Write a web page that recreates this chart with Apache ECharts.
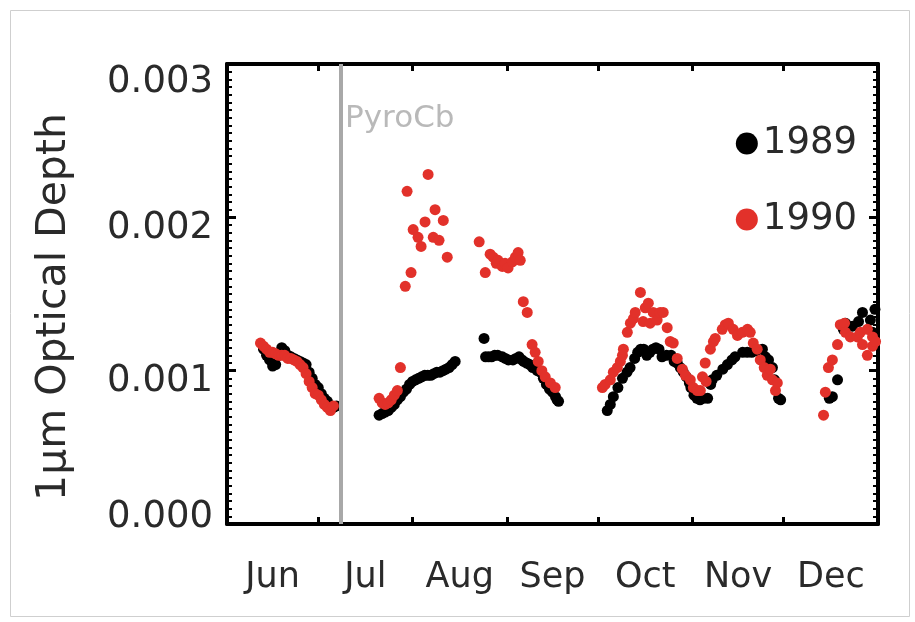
<!DOCTYPE html>
<html>
<head>
<meta charset="utf-8">
<script src="https://cdn.jsdelivr.net/npm/echarts@6/dist/echarts.min.js"></script>
<style>
html,body{margin:0;padding:0;background:#fff;}
#chart{width:915px;height:622px;}
</style>
</head>
<body>
<div id="chart"></div>
<script>
// x: days since 1 June; y: 1 micron optical depth
const monthNames = ['Jun','Jul','Aug','Sep','Oct','Nov','Dec'];
const monthStarts = [0,30,61,92,122,153,183,214];
const yTickLabels = ['0.000','0.001','0.002','0.003'];
const pyroCbDay = 37.5;
const pyroCbLabelY = 0.00264;

const day1989 = [
 12,13,14,15,16,17,18,19,20,21,22,23,24,25,26,27,28,29,30,31,32,33,34,35,36,
 50,51,52,53,54,55,56,57,58,59,60,61,62,63,64,65,66,67,68,69,70,71,72,73,74,75,
 84.5,
 85,86,87,88,89,90.5,91.5,92.5,94,95,96,97,97.5,98.5,99.5,100.5,102,103,104,105,106,107,108,108.5,109,
 125,126,127,128.5,130,131.5,132.5,134,135,136,137,138,139,140,141,142,143,144.5,146,147,148,149,150,151,152,152.5,153.5,154.5,155.5,156.5,
 158,159,159.5,161,163,164.5,166,167,169.5,171,172.5,174,176,177,178,179.3,180,181.3,182,
 198,199,200.7,202.6,203.3,205.6,207.6,208.9,211.5,212.2,213
];
const tau1989 = [
 0.00114,0.00110,0.00107,0.00103,0.00104,0.00110,0.00115,0.00113,0.00110,0.00109,0.00108,0.00107,0.00106,0.00105,0.00104,0.00099,0.00095,0.00091,0.00089,0.00085,0.00082,0.00080,0.00077,0.00076,0.00077,
 0.00071,0.00072,0.00073,0.00074,0.00076,0.00078,0.00081,0.00083,0.00086,0.00088,0.00091,0.00093,0.00094,0.00095,0.00096,0.00097,0.00097,0.00097,0.00098,0.00099,0.00099,0.00100,0.00101,0.00102,0.00104,0.00106,
 0.00121,
 0.00109,0.00109,0.00109,0.00110,0.00110,0.00109,0.00108,0.00107,0.00107,0.00108,0.00109,0.00107,0.00106,0.00105,0.00104,0.00102,0.00100,0.00099,0.00095,0.00091,0.00088,0.00086,0.00083,0.00081,0.00080,
 0.00074,0.00078,0.00083,0.00089,0.00095,0.00099,0.00102,0.00108,0.00112,0.00114,0.00114,0.00110,0.00112,0.00114,0.00115,0.00114,0.00109,0.00110,0.00110,0.00106,0.00105,0.00102,0.00099,0.00096,0.00092,0.00089,0.00084,0.00082,0.00081,0.00082,
 0.00082,0.00091,0.00094,0.00097,0.00101,0.00104,0.00107,0.00109,0.00112,0.00112,0.00112,0.00113,0.00114,0.00109,0.00107,0.00102,0.00094,0.00082,0.00081,
 0.00082,0.00083,0.00094,0.00127,0.00131,0.00129,0.00132,0.00138,0.00133,0.00125,0.00140
];

const day1990 = [
 11,12,13,14,15,16,17,18,19,20,21,22,23,24,25,26,27,28,29,30,31,32,33,34,35,
 50,51,52,53,54,55,56,57,
 58.6,59.2,60.5,61.2,62.8,63.8,65.1,66.1,67.8,68.4,69.7,71.1,72.4,
 82.9,84.9,86.5,87.5,88.5,89.1,90.5,91.4,92.4,93.8,94.8,95.7,96.4,97.4,98.7,100.3,101.3,102.3,103.5,104.6,106.3,107.9,
 123.4,124.3,126,127,128.3,129.3,130,130.3,131.6,132.6,133.6,134.2,135.9,136.8,137.5,138.5,139.1,140.1,141.4,142.4,143.4,144.7,145.7,146.7,148,149.7,150.7,152.3,153.3,154.6,155.6,
 156.3,157.2,157.5,158.9,159.9,160.5,162.8,163.8,164.8,166.4,167.8,169.4,171.1,172,173,174.3,175.3,176.6,177.6,178.6,179.3,180.3,180.9,
 196.1,196.7,197.7,199,200.7,201.6,203,203.3,204.9,207.2,208.2,208.9,210.5,210.5,212.2,212.2,213.2
];
const tau1990 = [
 0.00118,0.00116,0.00114,0.00112,0.00112,0.00111,0.00110,0.00110,0.00110,0.00108,0.00108,0.00107,0.00106,0.00104,0.00102,0.00098,0.00093,0.00089,0.00085,0.00084,0.00081,0.00078,0.00076,0.00074,0.00077,
 0.00082,0.00079,0.00078,0.00079,0.00081,0.00084,0.00087,0.00102,
 0.00155,0.00217,0.00164,0.00192,0.00187,0.00181,0.00197,0.00228,0.00187,0.00205,0.00185,0.00198,0.00174,
 0.00184,0.00164,0.00176,0.00174,0.00170,0.00172,0.00168,0.00170,0.00167,0.00171,0.00174,0.00177,0.00172,0.00145,0.00138,0.00117,0.00112,0.00106,0.00100,0.00096,0.00092,0.00089,
 0.00089,0.00091,0.00094,0.00099,0.00102,0.00106,0.00110,0.00114,0.00125,0.00131,0.00134,0.00138,0.00151,0.00132,0.00141,0.00144,0.00131,0.00138,0.00133,0.00138,0.00138,0.00128,0.00119,0.00118,0.00108,0.00101,0.00097,0.00094,0.00089,0.00087,0.00087,
 0.00096,0.00105,0.00093,0.00114,0.00119,0.00121,0.00127,0.00130,0.00131,0.00127,0.00123,0.00125,0.00127,0.00125,0.00118,0.00114,0.00107,0.00102,0.00097,0.00101,0.00094,0.00087,0.00092,
 0.00071,0.00086,0.00102,0.00107,0.00117,0.00130,0.00131,0.00125,0.00122,0.00122,0.00125,0.00117,0.00110,0.00127,0.00116,0.00122,0.00119
];

const FONT = 'DejaVu Sans';
const TXT = '#2a2a2a';
const labelDays = monthNames.map((m, i) => (monthStarts[i] + monthStarts[i + 1]) / 2);

const pair = (xs, ys) => xs.map((x, i) => [x, ys[i]]);

const frameLine = {show: true, onZero: false, lineStyle: {color: '#000', width: 4}};
const tickStyle = {color: '#000', width: 3};
const minorStyle = {color: '#000', width: 2};
const yLabelRich = {
  top: {fontSize: 37, fontFamily: FONT, color: TXT, padding: [36, 0, 0, 0]},
  mid: {fontSize: 37, fontFamily: FONT, color: TXT, padding: [22, 0, 0, 0]},
  bot: {fontSize: 37, fontFamily: FONT, color: TXT, padding: [0, 0, 14, 0]}
};

const chart = echarts.init(document.getElementById('chart'), null, {renderer: 'canvas'});
chart.setOption({
  backgroundColor: '#fff',
  animation: false,
  graphic: [{
    type: 'rect', left: 8, top: 8, silent: true,
    shape: {width: 899, height: 606},
    style: {fill: 'none', stroke: '#cfcfcf', lineWidth: 1}
  }],
  grid: {left: 227, right: 37, top: 64, bottom: 98, containLabel: false},
  legend: {
    data: ['1989', '1990'],
    orient: 'vertical', right: 53, top: 120, itemGap: 39,
    icon: 'circle', itemWidth: 22, itemHeight: 22,
    textStyle: {fontSize: 37, fontFamily: FONT, color: TXT}
  },
  xAxis: [{
    type: 'value', min: monthStarts[0], max: monthStarts[monthStarts.length - 1],
    position: 'bottom',
    axisLine: frameLine,
    axisTick: {inside: true, length: 7, lineStyle: tickStyle, customValues: monthStarts},
    axisLabel: {
      customValues: labelDays, margin: 36,
      fontSize: 35, fontFamily: FONT, color: TXT,
      formatter: v => monthNames[labelDays.indexOf(v)] || ''
    },
    splitLine: {show: false}
  }, {
    type: 'value', min: monthStarts[0], max: monthStarts[monthStarts.length - 1],
    position: 'top',
    axisLine: frameLine,
    axisTick: {show: true, inside: true, length: 7, lineStyle: tickStyle, customValues: monthStarts},
    axisLabel: {show: false},
    splitLine: {show: false}
  }],
  yAxis: [{
    type: 'value', min: 0, max: 0.003, interval: 0.001, position: 'left',
    name: '1\u03bcm Optical Depth', nameLocation: 'middle', nameGap: 152, nameRotate: 90,
    nameTextStyle: {fontSize: 41, fontFamily: FONT, color: TXT, padding: [0, 26, 0, 0]},
    axisLine: frameLine,
    axisTick: {show: true, inside: true, length: 9, lineStyle: tickStyle},
    minorTick: {show: true, splitNumber: 20, length: 5, lineStyle: minorStyle},
    axisLabel: {
      margin: 14,
      formatter: v => {
        const k = Math.round(v * 1000);
        const s = yTickLabels[k];
        if (k === 3) return '{top|' + s + '}';
        if (k === 0) return '{bot|' + s + '}';
        return '{mid|' + s + '}';
      },
      rich: yLabelRich
    },
    splitLine: {show: false}
  }, {
    type: 'value', min: 0, max: 0.003, interval: 0.001, position: 'right',
    axisLine: frameLine,
    axisTick: {show: true, inside: true, length: 9, lineStyle: tickStyle},
    minorTick: {show: true, splitNumber: 20, length: 5, lineStyle: minorStyle},
    axisLabel: {show: false},
    splitLine: {show: false}
  }],
  series: [{
    name: 'PyroCb', type: 'scatter', xAxisIndex: 0, yAxisIndex: 0,
    data: [[pyroCbDay, pyroCbLabelY]], symbolSize: 0, silent: true,
    label: {show: true, position: 'right', distance: 4, formatter: 'PyroCb',
      fontSize: 31, fontFamily: FONT, color: '#a8a8a8'},
    markLine: {
      silent: true, symbol: 'none', label: {show: false},
      lineStyle: {color: '#a8a8a8', width: 4, type: 'solid'},
      data: [{xAxis: pyroCbDay}]
    },
    z: 1
  }, {
    name: '1989', type: 'scatter', data: pair(day1989, tau1989),
    symbol: 'circle', symbolSize: 11, itemStyle: {color: '#000', opacity: 1}, z: 3
  }, {
    name: '1990', type: 'scatter', data: pair(day1990, tau1990),
    symbol: 'circle', symbolSize: 11, itemStyle: {color: '#e2312a', opacity: 1}, z: 4
  }, {
    name: 'frame', type: 'scatter', xAxisIndex: 1, yAxisIndex: 1,
    data: [], silent: true
  }]
});
</script>
</body>
</html>
